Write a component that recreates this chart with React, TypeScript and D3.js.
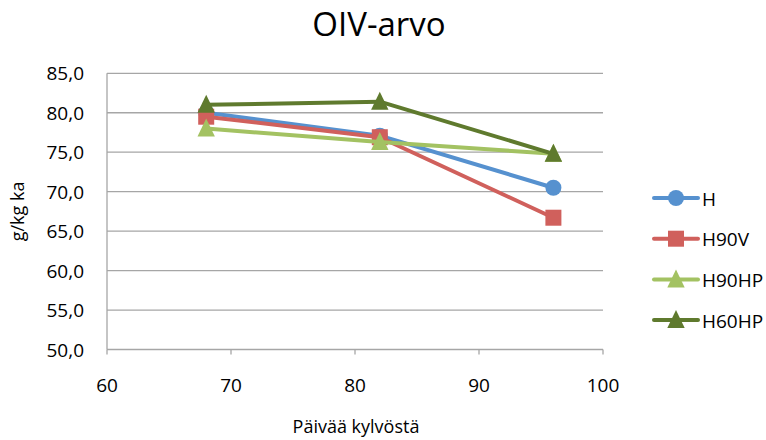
import React from "react";
import * as d3 from "d3";

const days = [68, 82, 96];
const seriesNames = ["H", "H90V", "H90HP", "H60HP"];
const valH = [80.0, 77.1, 70.5];
const valH90V = [79.5, 76.9, 66.7];
const valH90HP = [78.0, 76.3, 74.8];
const valH60HP = [81.0, 81.4, 74.8];
const yTicks = [50, 55, 60, 65, 70, 75, 80, 85];
const xTicks = [60, 70, 80, 90, 100];

const colors = ["#5691CF", "#D0605C", "#A3C262", "#5F7A2E"];
const shapes = ["circle", "square", "triangle", "triangle"];
const allVals = [valH, valH90V, valH90HP, valH60HP];

const W = 766, H = 440;
const L = 107, R = 603, T = 73.3, B = 349.5;
const font = "'Open Sans', sans-serif";

function Marker({ shape, x, y, color }: { shape: string; x: number; y: number; color: string }) {
  if (shape === "circle") return <circle cx={x} cy={y} r={8} fill={color} />;
  if (shape === "square") return <rect x={x - 8} y={y - 8} width={16} height={16} fill={color} />;
  const s = 8.7;
  return <path d={`M${x},${y - 10}L${x + s},${y + 8}L${x - s},${y + 8}Z`} fill={color} />;
}

export default function App() {
  const x = d3.scaleLinear().domain([60, 100]).range([L, R]);
  const y = d3.scaleLinear().domain([50, 85]).range([B, T]);
  const line = d3.line<number>().x((_, i) => x(days[i])).y((v) => y(v));
  const fmt = (v: number) => v.toFixed(1).replace(".", ",");
  return (
    <svg width={W} height={H} style={{ position: "absolute", left: 0, top: 0, background: "#fff" }}>
      <rect width={W} height={H} fill="#fff" />
      <text x={379} y={36} textAnchor="middle" fontFamily={font} fontSize={33} fill="#000">OIV-arvo</text>
      {yTicks.map((t) => (
        <g key={t}>
          <line x1={L} x2={R} y1={y(t)} y2={y(t)} stroke="#A6A6A6" strokeWidth={1.3} />
          <text x={84} y={y(t) + 7} textAnchor="end" fontFamily={font} fontSize={19} fill="#000">{fmt(t)}</text>
        </g>
      ))}
      <line x1={L} x2={L} y1={T} y2={B} stroke="#A6A6A6" strokeWidth={1.3} />
      {xTicks.map((t) => (
        <g key={t}>
          <line x1={x(t)} x2={x(t)} y1={B} y2={B + 5} stroke="#A6A6A6" strokeWidth={1.3} />
          <text x={x(t)} y={392} textAnchor="middle" fontFamily={font} fontSize={19} fill="#000">{t}</text>
        </g>
      ))}
      <text x={356} y={433} textAnchor="middle" fontFamily={font} fontSize={18} fill="#000">Päivää kylvöstä</text>
      <text transform={`translate(24,${(T + B) / 2}) rotate(-90)`} textAnchor="middle" fontFamily={font} fontSize={18} fill="#000">g/kg ka</text>
      {allVals.map((vals, si) => (
        <g key={si}>
          <path d={line(vals) || ""} fill="none" stroke={colors[si]} strokeWidth={4} strokeLinejoin="round" strokeLinecap="round" />
          {vals.map((v, i) => (
            <Marker key={i} shape={shapes[si]} x={x(days[i])} y={y(v)} color={colors[si]} />
          ))}
        </g>
      ))}
      {seriesNames.map((n, i) => {
        const ly = 198 + i * 40.7;
        return (
          <g key={n}>
            <line x1={654} x2={698} y1={ly} y2={ly} stroke={colors[i]} strokeWidth={4} strokeLinecap="round" />
            <Marker shape={shapes[i]} x={676} y={ly} color={colors[i]} />
            <text x={702} y={ly + 7.5} fontFamily={font} fontSize={19} fill="#000">{n}</text>
          </g>
        );
      })}
    </svg>
  );
}
